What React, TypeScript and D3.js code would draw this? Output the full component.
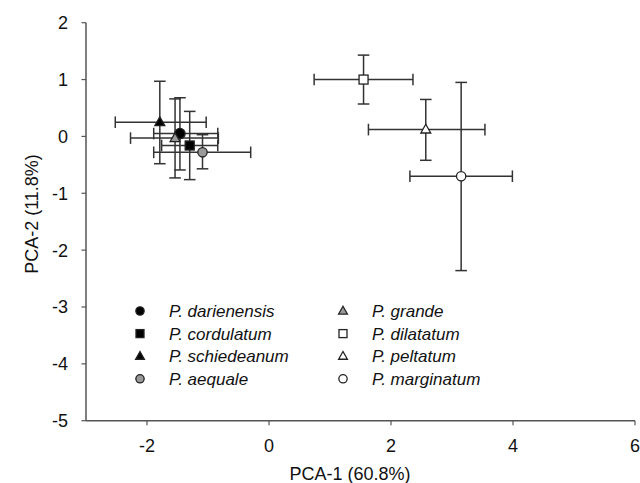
import React from "react";
import * as d3 from "d3";

const species = ["P. darienensis", "P. cordulatum", "P. schiedeanum", "P. aequale", "P. grande", "P. dilatatum", "P. peltatum", "P. marginatum"];
const shapes = ["circle", "square", "triangle", "circle", "triangle", "square", "triangle", "circle"];
const fills = ["#000", "#000", "#000", "#999", "#999", "#fff", "#fff", "#fff"];
const pcaX = [-1.46, -1.30, -1.79, -1.09, -1.54, 1.55, 2.57, 3.15];
const pcaY = [0.05, -0.16, 0.25, -0.28, -0.03, 1.0, 0.12, -0.70];
const xLo = [-1.89, -1.76, -2.52, -1.89, -2.27, 0.74, 1.63, 2.31];
const xHi = [-0.84, -0.84, -1.03, -0.30, -0.83, 2.36, 3.54, 3.99];
const yLo = [-0.59, -0.76, -0.48, -0.57, -0.73, 0.57, -0.42, -2.36];
const yHi = [0.68, 0.44, 0.97, 0.03, 0.66, 1.43, 0.65, 0.95];
const xTicks = [-2, 0, 2, 4, 6];
const yTicks = [2, 1, 0, -1, -2, -3, -4, -5];

const W = 640, H = 483;
const x = d3.scaleLinear().domain([-3, 6]).range([86, 635]);
const y = d3.scaleLinear().domain([-5, 2]).range([420.7, 22.7]);
const stroke = "#333";
const axisCol = "#555";

function Marker({ shape, cx, cy, fill, s }: { shape: string; cx: number; cy: number; fill: string; s: number }) {
  const sw = 1.3;
  if (shape === "circle") return <circle cx={cx} cy={cy} r={s * 0.52} fill={fill} stroke="#222" strokeWidth={sw} />;
  if (shape === "square") return <rect x={cx - s / 2} y={cy - s / 2} width={s} height={s} fill={fill} stroke="#222" strokeWidth={sw} />;
  const h = s * 0.95;
  const pts = [[cx, cy - h * 0.62], [cx - s * 0.55, cy + h * 0.4], [cx + s * 0.55, cy + h * 0.4]];
  return <polygon points={pts.map((p) => p.join(",")).join(" ")} fill={fill} stroke="#222" strokeWidth={sw} strokeLinejoin="miter" />;
}

export default function App() {
  const font = "Liberation Sans, Arial, sans-serif";
  const cap = 5.8;
  const order = [7, 6, 5, 0, 1, 2, 4, 3];
  return (
    <svg width={W} height={H} style={{ position: "absolute", left: 0, top: 0, background: "#fff" }} fontFamily={font}>
      <rect width={W} height={H} fill="#fff" />
      {order.map((i) => (
        <g key={"e" + i} stroke={stroke} strokeWidth={1.5} fill="none">
          <line x1={x(xLo[i])} x2={x(xHi[i])} y1={y(pcaY[i])} y2={y(pcaY[i])} />
          <line x1={x(xLo[i])} x2={x(xLo[i])} y1={y(pcaY[i]) - cap} y2={y(pcaY[i]) + cap} />
          <line x1={x(xHi[i])} x2={x(xHi[i])} y1={y(pcaY[i]) - cap} y2={y(pcaY[i]) + cap} />
          <line x1={x(pcaX[i])} x2={x(pcaX[i])} y1={y(yLo[i])} y2={y(yHi[i])} />
          <line x1={x(pcaX[i]) - cap} x2={x(pcaX[i]) + cap} y1={y(yLo[i])} y2={y(yLo[i])} />
          <line x1={x(pcaX[i]) - cap} x2={x(pcaX[i]) + cap} y1={y(yHi[i])} y2={y(yHi[i])} />
        </g>
      ))}
      {order.map((i) => (
        <Marker key={"m" + i} shape={shapes[i]} cx={x(pcaX[i])} cy={y(pcaY[i])} fill={fills[i]} s={i === 0 ? 10 : 9} />
      ))}
      <line x1={x(-3)} x2={x(-3)} y1={y(2)} y2={y(-5)} stroke={axisCol} strokeWidth={1.5} />
      <line x1={x(-3)} x2={x(6)} y1={y(-5)} y2={y(-5)} stroke={axisCol} strokeWidth={1.5} />
      {yTicks.map((t) => (
        <g key={"yt" + t}>
          <line x1={x(-3) - 4.5} x2={x(-3)} y1={y(t)} y2={y(t)} stroke={axisCol} strokeWidth={1.2} />
          <text x={68} y={y(t)} dy="0.36em" textAnchor="end" fontSize={18} fill="#111">{t}</text>
        </g>
      ))}
      {xTicks.map((t) => (
        <g key={"xt" + t}>
          <line x1={x(t)} x2={x(t)} y1={y(-5)} y2={y(-5) + 4.5} stroke={axisCol} strokeWidth={1.2} />
          <text x={x(t)} y={452} textAnchor="middle" fontSize={18} fill="#111">{t}</text>
        </g>
      ))}
      <text x={350} y={480} textAnchor="middle" fontSize={18} fill="#111">PCA-1 (60.8%)</text>
      <text transform={`translate(38,214) rotate(-90)`} textAnchor="middle" fontSize={18} fill="#111">PCA-2 (11.8%)</text>
      {species.map((sp, i) => {
        const col = i < 4 ? 0 : 1;
        const row = i % 4;
        const mx = col === 0 ? 140 : 343;
        const ty = 311 + row * 22.6;
        return (
          <g key={"l" + i}>
            <Marker shape={shapes[i]} cx={mx} cy={ty} fill={fills[i]} s={8} />
            <text x={mx + 29} y={ty} dy="0.36em" fontSize={17} fontStyle="italic" fill="#111">{sp}</text>
          </g>
        );
      })}
    </svg>
  );
}
